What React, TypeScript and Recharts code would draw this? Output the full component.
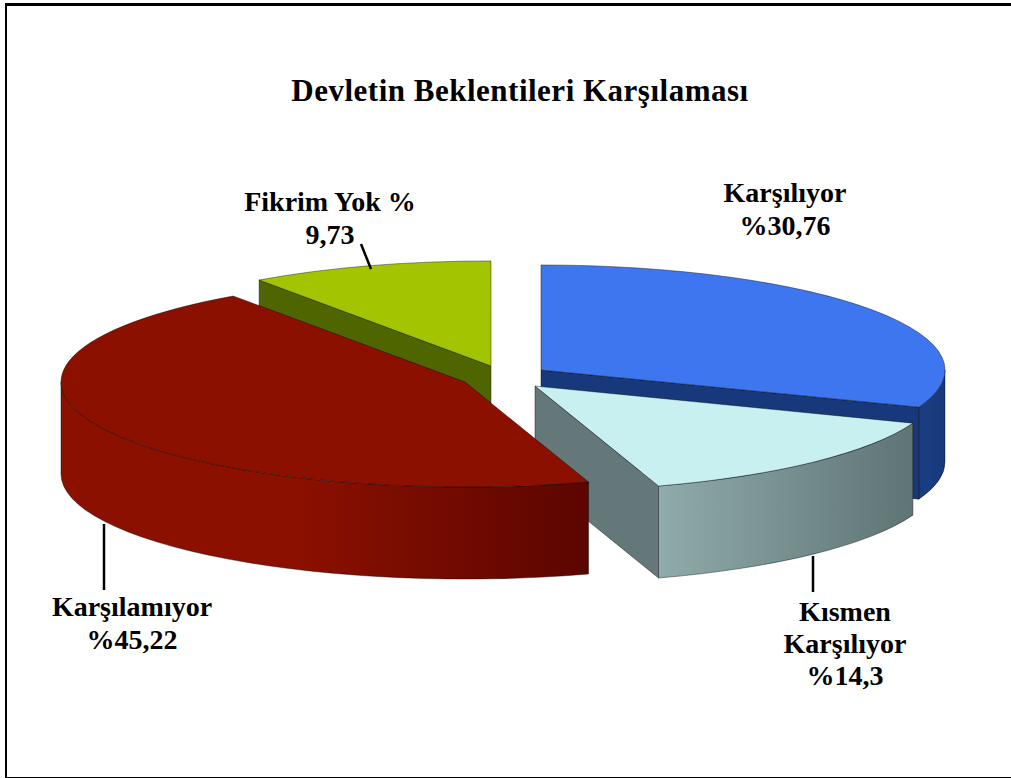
import React from 'react';
import { PieChart, Pie } from 'recharts';

const CHART_TITLE = 'Devletin Beklentileri Karşılaması';

// Pie order: drawn back to front, so Fikrim Yok comes first and the sweep starts at its left edge
const categories = ['Fikrim Yok', 'Karşılıyor', 'Kısmen Karşılıyor', 'Karşılamıyor'];
const seriesValues = [9.73, 30.76, 14.3, 45.22];
const labelLines = [
  ['Fikrim Yok %', '9,73'],
  ['Karşılıyor', '%30,76'],
  ['Kısmen', 'Karşılıyor', '%14,3'],
  ['Karşılamıyor', '%45,22'],
];

const WIDTH = 1011;
const HEIGHT = 778;
const CX = 505;
const CY = 375;
const RADIUS = 404;
const SQUASH = 0.26; // flattening of the disc
const DEPTH = 92; // height of the walls
const SERIF = '"Liberation Serif", "Times New Roman", serif';

// how far each slice is pulled away from the centre
const explode = [
  { dx: -14, dy: -9 },
  { dx: 36, dy: -5 },
  { dx: 30, dy: 11 },
  { dx: -40, dy: 7 },
];

const sliceColors = [
  { top: '#a3c400', face: '#4f6500', wallFrom: '#4f6500', wallMid: '#4f6500', wallTo: '#4f6500' },
  { top: '#3e76f0', face: '#17387a', wallFrom: '#1a3c80', wallMid: '#1a3c80', wallTo: '#17387a' },
  { top: '#c8f0f0', face: '#64787a', wallFrom: '#90abab', wallMid: '#7a9292', wallTo: '#5f7474' },
  { top: '#8b1000', face: '#6a0800', wallFrom: '#8b1000', wallMid: '#8b1000', wallTo: '#5c0500' },
];

const labelSpots = [
  { x: 330, y: 211, gap: 33, leader: [361, 244, 371, 269] },
  { x: 785, y: 202, gap: 33, leader: null },
  { x: 845, y: 621, gap: 32, leader: [813, 556, 813, 592] },
  { x: 132, y: 616, gap: 33, leader: [104, 524, 104, 590] },
];

const EDGE = 'rgba(0,0,0,0.4)';

function arcBack(rx: number, ry: number, to: number[]) {
  return `A ${rx} ${ry} 0 0 0 ${to[0]} ${to[1]}`;
}

const Slice3D = (props: any) => {
  const { cx, cy, outerRadius, startAngle, endAngle, index } = props;
  const i = categories.indexOf(props.payload?.name ?? props.name);
  const idx = i >= 0 ? i : index;
  const off = explode[idx];
  const col = sliceColors[idx];
  const ox = cx + off.dx;
  const oy = cy + off.dy;
  const rx = outerRadius;
  const ry = outerRadius * SQUASH;

  const pt = (deg: number, drop = 0) => {
    const t = (deg * Math.PI) / 180;
    return [ox + rx * Math.cos(t), oy - ry * Math.sin(t) + drop];
  };
  const arc = (from: number, to: number) => {
    const [x, y] = pt(to);
    const large = Math.abs(from - to) > 180 ? 1 : 0;
    return `A ${rx} ${ry} 0 ${large} 1 ${x} ${y}`;
  };
  const face = (deg: number) => {
    const [ex, ey] = pt(deg);
    return `M ${ox} ${oy} L ${ex} ${ey} L ${ex} ${ey + DEPTH} L ${ox} ${oy + DEPTH} Z`;
  };

  const showStart = Math.cos((startAngle * Math.PI) / 180) < -0.001;
  const showEnd = Math.cos((endAngle * Math.PI) / 180) > 0.001;

  // the outer wall only shows on the front half of the disc
  const wallFrom = Math.min(startAngle, 0);
  const wallTo = Math.max(endAngle, -180);
  const hasWall = wallFrom > wallTo;
  let wallPath = '';
  if (hasWall) {
    const [ax, ay] = pt(wallFrom);
    const [bx, by] = pt(wallTo, DEPTH);
    wallPath = `M ${ax} ${ay} ${arc(wallFrom, wallTo)} L ${bx} ${by} ${arcBack(rx, ry, pt(wallFrom, DEPTH))} Z`;
  }

  const [sx, sy] = pt(startAngle);
  const topPath = `M ${ox} ${oy} L ${sx} ${sy} ${arc(startAngle, endAngle)} Z`;
  const gradId = `wall-${idx}`;

  return (
    <g>
      <defs>
        <linearGradient id={gradId} x1="0" y1="0" x2="1" y2="0">
          <stop offset="0%" stopColor={col.wallFrom} />
          <stop offset="45%" stopColor={col.wallMid} />
          <stop offset="100%" stopColor={col.wallTo} />
        </linearGradient>
      </defs>
      {showStart && <path d={face(startAngle)} fill={col.face} stroke={EDGE} strokeWidth={1} />}
      {showEnd && <path d={face(endAngle)} fill={col.face} stroke={EDGE} strokeWidth={1} />}
      {hasWall && <path d={wallPath} fill={`url(#${gradId})`} stroke={EDGE} strokeWidth={1} />}
      <path d={topPath} fill={col.top} stroke={EDGE} strokeWidth={1} />
    </g>
  );
};

const renderLabel = (props: any) => {
  const spot = labelSpots[props.index];
  const lines = labelLines[props.index];
  return (
    <g>
      {spot.leader && (
        <line
          x1={spot.leader[0]}
          y1={spot.leader[1]}
          x2={spot.leader[2]}
          y2={spot.leader[3]}
          stroke="#000"
          strokeWidth={2.5}
        />
      )}
      {lines.map((line, n) => (
        <text
          key={line}
          x={spot.x}
          y={spot.y + n * spot.gap}
          textAnchor="middle"
          fontFamily={SERIF}
          fontWeight="bold"
          fontSize={28}
          fill="#000"
        >
          {line}
        </text>
      ))}
    </g>
  );
};

const pieData = categories.map((name, i) => ({ name, value: seriesValues[i] }));

export default function App() {
  return (
    <div style={{ position: 'absolute', left: 0, top: 0, width: WIDTH, height: HEIGHT, background: '#fff', overflow: 'hidden' }}>
      <div
        style={{
          position: 'absolute',
          left: 5,
          top: 3,
          width: WIDTH,
          height: 771,
          borderLeft: '2.5px solid #000',
          borderTop: '3px solid #000',
          borderBottom: '2px solid #000',
        }}
      />
      <div style={{ position: 'absolute', left: 0, top: 0 }}>
        <PieChart width={WIDTH} height={HEIGHT} margin={{ top: 0, right: 0, bottom: 0, left: 0 }}>
          <text
            x={520}
            y={101}
            textAnchor="middle"
            fontFamily={SERIF}
            fontWeight="bold"
            fontSize={31}
            letterSpacing={0.5}
            fill="#000"
          >
            {CHART_TITLE}
          </text>
          <Pie
            data={pieData}
            dataKey="value"
            nameKey="name"
            cx={CX}
            cy={CY}
            outerRadius={RADIUS}
            startAngle={90 + seriesValues[0] * 3.6}
            endAngle={90 + seriesValues[0] * 3.6 - 360}
            shape={Slice3D}
            label={renderLabel}
            labelLine={false}
            stroke="none"
            isAnimationActive={false}
          />
        </PieChart>
      </div>
    </div>
  );
}
